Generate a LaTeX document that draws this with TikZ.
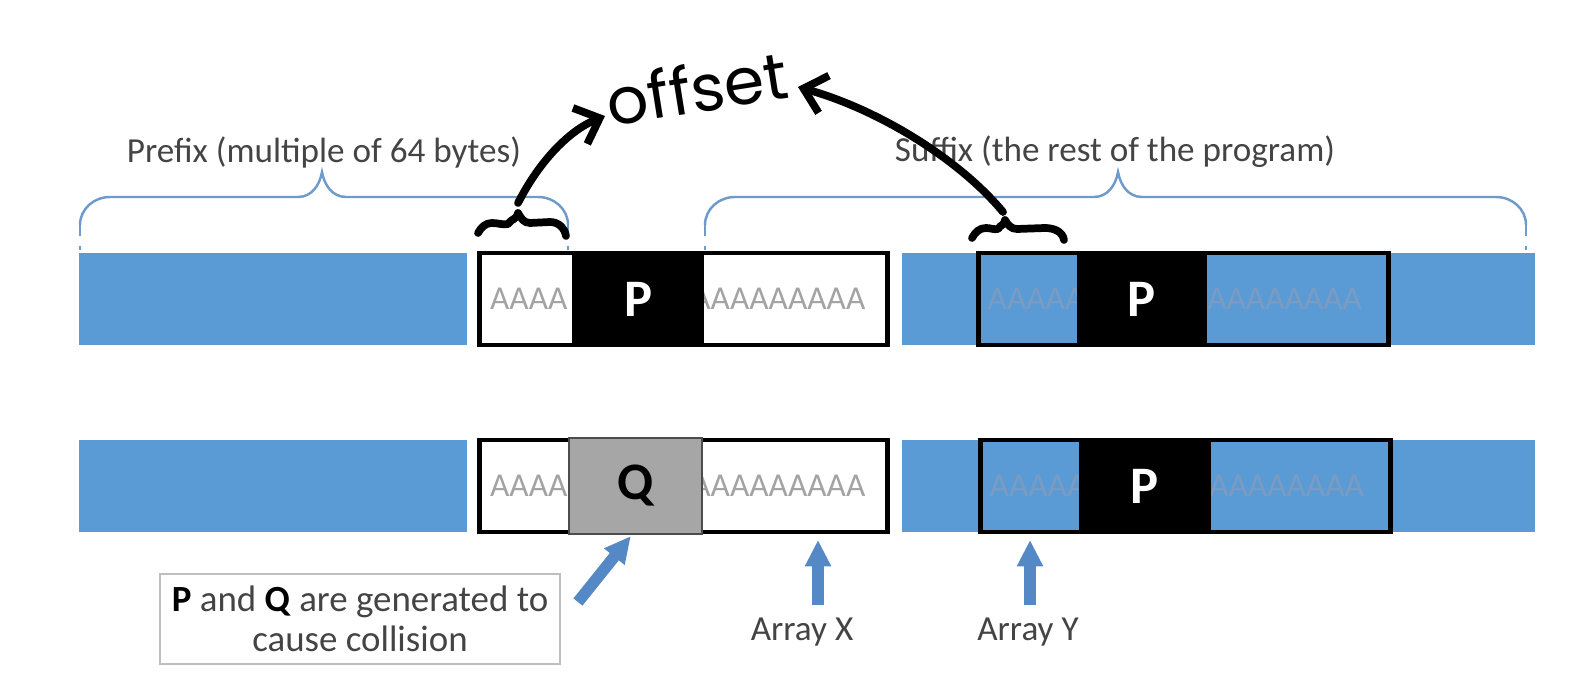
\documentclass[tikz,border=0pt]{standalone}
\usepackage{fontspec}
\setmainfont{Carlito}
\newfontfamily\handfont{Poppins}
\usepackage{xcolor}
\usetikzlibrary{arrows.meta,positioning,calc}

\definecolor{barblue}{HTML}{5B9BD5}
\definecolor{braceblue}{HTML}{6E9BCB}
\definecolor{arrowblue}{HTML}{5589C6}
\definecolor{labgray}{HTML}{444444}
\definecolor{qgray}{HTML}{A6A6A6}
\definecolor{aagray}{HTML}{A3A3A3}
\definecolor{aablue}{HTML}{7A9BC2}

\begin{document}
\begin{tikzpicture}[
    bar/.style={rectangle, fill=barblue, inner sep=0, minimum height=0.92cm, anchor=west},
    arr/.style={rectangle, draw=black, line width=1.3pt, inner sep=0, minimum height=0.92cm, anchor=west},
    blk/.style={rectangle, fill=black, inner sep=0, minimum height=0.965cm, text=white, font=\fontsize{15}{15}\selectfont\bfseries},
    aa/.style={inner sep=0, text=aagray, font=\fontsize{9.5}{10}\selectfont},
    lbl/.style={text=labgray, font=\fontsize{10}{12}\selectfont},
    brace/.style={draw=braceblue, line width=0.7pt},
    hand/.style={draw=black, line width=2.2pt, line cap=round, line join=round},
    fatarrow/.style={draw=arrowblue, line width=3.3pt, -{Triangle[length=7.5pt,width=7pt]}}
]
\useasboundingbox (0,0) rectangle (15.74,-6.93);

% First row
\node[bar, minimum width=3.88cm] (blue1L) at (0.78,-2.99) {};
\node[arr, fill=white, minimum width=4.08cm, right=0.10cm of blue1L.east] (X1) {};
\node[bar, minimum width=6.33cm, right=0.11cm of X1.east] (blue1R) {};
\node[arr, fill=barblue, minimum width=4.10cm, right=0.75cm of blue1R.west] (Y1) {};
\node[aa, right=1.2mm of X1.west] (aX1) {AAAA};
\node[aa, left=2.4mm of X1.east] (bX1) {AAAAAAAAA};
\node[aa, text=aablue, right=1.1mm of Y1.west] (aY1) {AAAAA};
\node[aa, text=aablue, left=2.8mm of Y1.east] (bY1) {AAAAAAAAA};
\node[blk, minimum width=1.32cm, right=0.94cm of X1.west] (P1) {P};
\node[blk, minimum width=1.30cm, right=1.00cm of Y1.west] (P1b) {P};

% Second row
\node[bar, minimum width=3.88cm] (blue2L) at (0.78,-4.86) {};
\node[arr, fill=white, minimum width=4.08cm, right=0.10cm of blue2L.east] (X2) {};
\node[bar, minimum width=6.33cm, right=0.11cm of X2.east] (blue2R) {};
\node[arr, fill=barblue, minimum width=4.10cm, right=0.77cm of blue2R.west] (Y2) {};
\node[aa, right=1.2mm of X2.west] (aX2) {AAAA};
\node[aa, left=2.4mm of X2.east] (bX2) {AAAAAAAAA};
\node[aa, text=aablue, right=1.1mm of Y2.west] (aY2) {AAAAA};
\node[aa, text=aablue, left=2.8mm of Y2.east] (bY2) {AAAAAAAAA};
\node[blk, fill=qgray, draw=black!70, line width=0.5pt, text=black, minimum width=1.33cm, right=0.91cm of X2.west] (Q) {Q};
\node[blk, minimum width=1.32cm, right=1.00cm of Y2.west] (P2) {P};

% Braces
\node[lbl] (prefix) at (3.24,-1.52) {Prefix (multiple of 64 bytes)};
\node[lbl] (suffix) at (11.15,-1.52) {Suffix (the rest of the program)};
\draw[brace] (0.80,-2.25) to[out=90,in=180] (1.10,-1.97) -- (2.98,-1.97)
    to[out=0,in=-100] (3.22,-1.72) to[out=-80,in=180] (3.46,-1.97) -- (5.38,-1.97)
    to[out=0,in=90] (5.68,-2.25);
\draw[brace, dashed] (0.80,-2.25) -- (0.80,-2.50);
\draw[brace, dashed] (5.68,-2.25) -- (5.68,-2.50);
\draw[brace] (7.05,-2.25) to[out=90,in=180] (7.35,-1.97) -- (10.94,-1.97)
    to[out=0,in=-100] (11.18,-1.72) to[out=-80,in=180] (11.42,-1.97) -- (14.96,-1.97)
    to[out=0,in=90] (15.26,-2.25);
\draw[brace, dashed] (7.05,-2.25) -- (7.05,-2.50);
\draw[brace, dashed] (15.26,-2.25) -- (15.26,-2.50);

% Handwritten offset
\node[rotate=9, inner sep=1pt, font=\handfont\fontsize{18.5}{18.5}\selectfont] (offset) at (6.97,-0.88) {offset};
\coordinate (tipL) at (5.18,-2.03);
\coordinate (tipR) at (10.03,-2.12);
\draw[hand] (4.78,-2.33) to[out=60,in=180] (4.92,-2.23) to[out=0,in=190] (5.08,-2.24)
    to[out=60,in=-90] (5.18,-2.13) to[out=-60,in=180] (5.30,-2.23) -- (5.50,-2.22)
    to[out=0,in=100] (5.66,-2.36);
\draw[hand] (9.72,-2.38) to[out=60,in=180] (9.86,-2.28) to[out=0,in=190] (9.98,-2.29)
    to[out=60,in=-90] (10.05,-2.20) to[out=-60,in=180] (10.17,-2.29) -- (10.45,-2.28)
    to[out=0,in=100] (10.64,-2.40);
\draw[hand, -{Straight Barb[length=6pt,width=11pt]}] (tipL) .. controls (5.40,-1.60) and (5.70,-1.30) .. (6.05,-1.16);
\draw[hand, -{Straight Barb[length=6pt,width=11pt]}] (tipR) .. controls (9.60,-1.60) and (8.80,-1.10) .. (7.98,-0.87);

% Pointers
\node[draw=black!25, line width=0.6pt, minimum width=3.90cm, minimum height=0.85cm, align=center,
      text=labgray, font=\fontsize{10.5}{11.5}\selectfont] (note) at (3.60,-6.19)
      {\textcolor{black}{\textbf{P}} and \textcolor{black}{\textbf{Q}} are generated to\\cause collision};
\node[lbl] (labX) at (8.02,-6.32) {Array X};
\node[lbl] (labY) at (10.28,-6.32) {Array Y};
\coordinate (ptrX) at (8.18,-5.40);
\coordinate (ptrY) at (10.30,-5.40);
\draw[fatarrow] ($(note.east)+(0.17,0.17)$) -- ([xshift=-0.05cm,yshift=-0.01cm]Q.south);
\draw[fatarrow] (labX.north -| ptrX) -- (ptrX);
\draw[fatarrow] (labY.north -| ptrY) -- (ptrY);

\end{tikzpicture}
\end{document}
